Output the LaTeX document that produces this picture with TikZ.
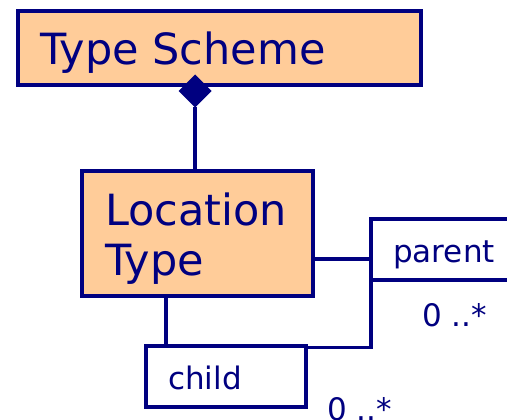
\documentclass[tikz,border=0pt]{standalone}
\usepackage{fontspec}
\setmainfont{DejaVu Sans}
\usetikzlibrary{shapes.geometric}
\definecolor{umlnavy}{HTML}{000080}
\definecolor{umlpeach}{HTML}{FFCC99}
\begin{document}
\begin{tikzpicture}[x=1pt,y=-1pt,
  classbox/.style={draw=umlnavy, fill=umlpeach, line width=3.2pt, inner sep=0pt, outer sep=0pt, anchor=north west},
  rolebox/.style={draw=umlnavy, fill=white, line width=3.2pt, inner sep=0pt, outer sep=0pt, anchor=north west},
  bigtext/.style={text=umlnavy, font=\fontsize{43}{50}\selectfont, inner sep=0pt, anchor=base west, align=left},
  smalltext/.style={text=umlnavy, font=\fontsize{31}{36}\selectfont, inner sep=0pt, anchor=base west},
  link/.style={draw=umlnavy, line width=3.2pt},
  aggregation/.style={diamond, fill=umlnavy, inner sep=0pt, outer sep=0pt, minimum width=33pt, minimum height=33pt}]
\useasboundingbox (0,0) rectangle (507,420);
\clip (0,0) rectangle (507,420);

% classes
\node[classbox, minimum width=403pt, minimum height=74pt] (scheme) at (18,11) {};
\node[bigtext] (schemetext) at (40,65) {Type Scheme};
\node[classbox, minimum width=231pt, minimum height=125pt] (loc) at (82,171) {};
% base of a two-line node is the baseline of its last line
\node[bigtext] (loctext) at (105,275) {Location\\Type};

% role boxes
\node[rolebox, minimum width=160pt, minimum height=61pt] (parent) at (371,219) {};
\node[smalltext] (parenttext) at (393,262) {parent};
\node[rolebox, minimum width=160pt, minimum height=61pt] (child) at (146,346) {};
\node[smalltext] (childtext) at (168,389) {child};

% multiplicities
\node[smalltext] (parentmult) at (422,326) {0 ..*};
\node[smalltext] (childmult) at (327,420) {0 ..*};

% composition of location types in a scheme
\node[aggregation] (diam) at (195,91) {};
\draw[link] (diam.south) -- (diam.south |- loc.north);

% self association parent/child
\coordinate (assoc) at (371,259);
\draw[link] (loc.east |- assoc) -- (parent.west |- assoc);
\draw[link] (loc.south -| 166,0) -- (child.north -| 166,0);
\draw[link] (parent.south west) |- ([yshift=-1.5pt]child.north east);
\end{tikzpicture}
\end{document}
